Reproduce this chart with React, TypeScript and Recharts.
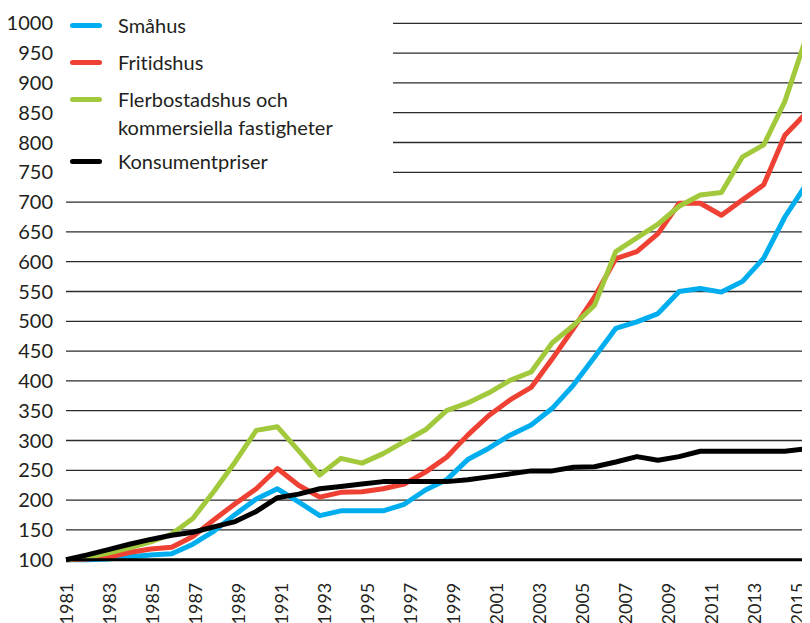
import React from 'react';
import { LineChart, Line, XAxis, YAxis, CartesianGrid } from 'recharts';

const years = [1981,1982,1983,1984,1985,1986,1987,1988,1989,1990,1991,1992,1993,1994,1995,1996,1997,1998,1999,2000,2001,2002,2003,2004,2005,2006,2007,2008,2009,2010,2011,2012,2013,2014,2015,2016];
const smahus = [100,100,101,105,108,110,126,148,176,202,219,197,174,182,182,182,193,217,234,268,287,309,326,354,393,440,488,499,513,550,555,549,567,606,675,729];
const fritidshus = [100,101,104,112,118,121,139,167,194,219,253,225,205,213,214,219,227,247,272,309,342,368,389,437,488,541,605,617,647,698,698,678,704,729,812,849];
const flerbostad = [100,104,111,120,130,143,169,215,264,317,323,283,242,270,262,278,298,318,350,363,380,401,415,464,493,527,617,640,663,693,712,716,776,796,869,975];
const konsument = [100,108,117,126,134,141,146,155,164,181,204,210,219,223,227,231,231,231,231,234,239,244,249,249,255,256,264,273,267,273,282,282,282,282,282,286];

const xTickYears = [1981,1983,1985,1987,1989,1991,1993,1995,1997,1999,2001,2003,2005,2007,2009,2011,2013,2015];
const yTicks = [100,150,200,250,300,350,400,450,500,550,600,650,700,750,800,850,900,950,1000];

const seriesNames = ['Småhus', 'Fritidshus', 'Flerbostadshus och kommersiella fastigheter', 'Konsumentpriser'];
const colors = ['#00AEEF', '#EF4133', '#A2C83B', '#000000'];

const rows = years.map((y, i) => ({
  year: y,
  s: smahus[i],
  f: fritidshus[i],
  m: flerbostad[i],
  k: konsument[i],
}));

const FONT = 'Lato, "Open Sans", sans-serif';
const TEXT = '#231f20';

const XTick = (props: any) => {
  const { x, y, payload } = props;
  return (
    <text
      x={x}
      y={y}
      transform={`rotate(-90 ${x} ${y})`}
      textAnchor="end"
      dominantBaseline="central"
      fontSize={18}
      fontFamily={FONT}
      fill={TEXT}
      style={{ fontVariantLigatures: 'none' }}
    >
      {payload.value}
    </text>
  );
};

const legendRows = [
  { name: seriesNames[0], color: colors[0], lines: ['Småhus'] },
  { name: seriesNames[1], color: colors[1], lines: ['Fritidshus'] },
  { name: seriesNames[2], color: colors[2], lines: ['Flerbostadshus och', 'kommersiella fastigheter'] },
  { name: seriesNames[3], color: colors[3], lines: ['Konsumentpriser'] },
];
const legendCenters = [17, 54, 91, 153];

const LegendBox = () => (
  <div style={{ position: 'absolute', left: 54, top: 0, width: 331, height: 178, background: '#fff', fontFamily: FONT, fontSize: 20, color: TEXT, fontVariantLigatures: 'none' }}>
    {legendRows.map((r, i) => (
      <div key={r.name}>
        <div style={{ position: 'absolute', left: 8, top: legendCenters[i] - 2.5, width: 32, height: 5, borderRadius: 3, background: r.color }} />
        <div style={{ position: 'absolute', left: 56, top: legendCenters[i] - 14, lineHeight: '28px', whiteSpace: 'nowrap' }}>
          {r.lines.map((l) => (
            <div key={l}>{l}</div>
          ))}
        </div>
      </div>
    ))}
  </div>
);

export default function App() {
  return (
    <div style={{ position: 'relative', width: 802, height: 615 }}>
      <LineChart width={802} height={615} data={rows} margin={{ top: 15.3, right: 4, bottom: 0, left: 0 }}>
        <CartesianGrid horizontal vertical={false} stroke="#2a2a2a" strokeWidth={1.3} />
        <XAxis dataKey="year" type="number" domain={[1981, 2016]} height={0} hide />
        <XAxis
          xAxisId="lbl"
          dataKey="year"
          type="number"
          domain={[1981, 2015.4]}
          allowDataOverflow
          ticks={xTickYears}
          interval={0}
          height={63.3}
          tick={<XTick />}
          tickLine={false}
          tickSize={0}
          tickMargin={23}
          axisLine={{ stroke: '#000', strokeWidth: 3 }}
        />
        <YAxis
          domain={[100, 1000]}
          ticks={yTicks}
          interval={0}
          width={58}
          axisLine={false}
          tickLine={false}
          tickSize={0}
          tickMargin={13}
          tick={{ fontSize: 20, fill: TEXT, fontFamily: FONT }}
        />
        <Line type="linear" dataKey="s" name={seriesNames[0]} stroke={colors[0]} strokeWidth={5} dot={false} strokeLinejoin="round" isAnimationActive={false} />
        <Line type="linear" dataKey="f" name={seriesNames[1]} stroke={colors[1]} strokeWidth={5} dot={false} strokeLinejoin="round" isAnimationActive={false} />
        <Line type="linear" dataKey="m" name={seriesNames[2]} stroke={colors[2]} strokeWidth={5} dot={false} strokeLinejoin="round" isAnimationActive={false} />
        <Line type="linear" dataKey="k" name={seriesNames[3]} stroke={colors[3]} strokeWidth={5} dot={false} strokeLinejoin="round" isAnimationActive={false} />
      </LineChart>
      <LegendBox />
    </div>
  );
}
